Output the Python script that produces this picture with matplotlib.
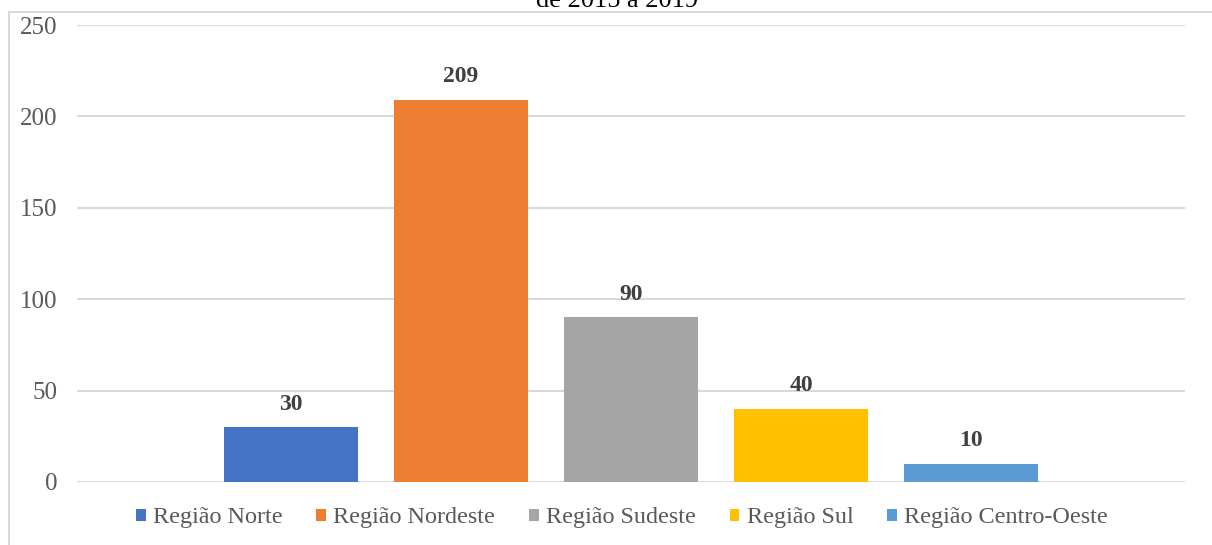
import matplotlib.pyplot as plt
from matplotlib.lines import Line2D

regioes = ["Região Norte", "Região Nordeste", "Região Sudeste", "Região Sul", "Região Centro-Oeste"]
casos = [30, 209, 90, 40, 10]
cores = ["#4472C4", "#ED7D31", "#A5A5A5", "#FFC000", "#5B9BD5"]
yticks = [0, 50, 100, 150, 200, 250]
titulo = "de 2015 a 2019"

plt.rcParams["font.family"] = ["Liberation Serif", "DejaVu Serif"]

W, H = 1212, 545
fig = plt.figure(figsize=(W / 100, H / 100), dpi=100)
ax = fig.add_axes([77 / W, 63 / H, (1185 - 77) / W, (482 - 25) / H])

x = list(range(len(casos)))
bars = ax.bar(x, casos, width=0.788, color=cores, label=regioes, zorder=3)
for xi, v in zip(x, casos):
    ax.annotate(str(v), (xi, v), xytext=(0, 9), textcoords="offset points",
                ha="center", va="bottom", fontsize=17, fontweight="bold", color="#404040")

ax.set_ylim(0, 250)
ax.set_xlim(2 - 3.259, 2 + 3.259)
ax.set_yticks(yticks)
ax.set_xticks([])
ax.tick_params(axis="y", length=0, labelsize=18, labelcolor="#595959", pad=14)
ax.grid(axis="y", color="#d9d9d9", linewidth=1.5, zorder=0)
for s in ax.spines.values():
    s.set_visible(False)
ax.axhline(0, color="#d9d9d9", linewidth=2, zorder=2)

# chart border (only partly visible in the crop)
fig.add_artist(Line2D([9 / W, 9 / W], [0, 1 - 12 / H], color="#d9d9d9", linewidth=1.5))
fig.add_artist(Line2D([9 / W, 1], [1 - 12 / H, 1 - 12 / H], color="#d9d9d9", linewidth=1.5))

fig.text(617 / W, 1 - 7 / H, titulo, ha="center", va="baseline", fontsize=19, color="black")

fig.legend(handles=list(bars), labels=regioes, loc="center", bbox_to_anchor=(622 / W, 27 / H),
           ncol=5, frameon=False, fontsize=17.4, labelcolor="#595959",
           handlelength=0.4, handleheight=0.4, handletextpad=0.3, columnspacing=1.4)

fig.savefig("out.png", dpi=100)
